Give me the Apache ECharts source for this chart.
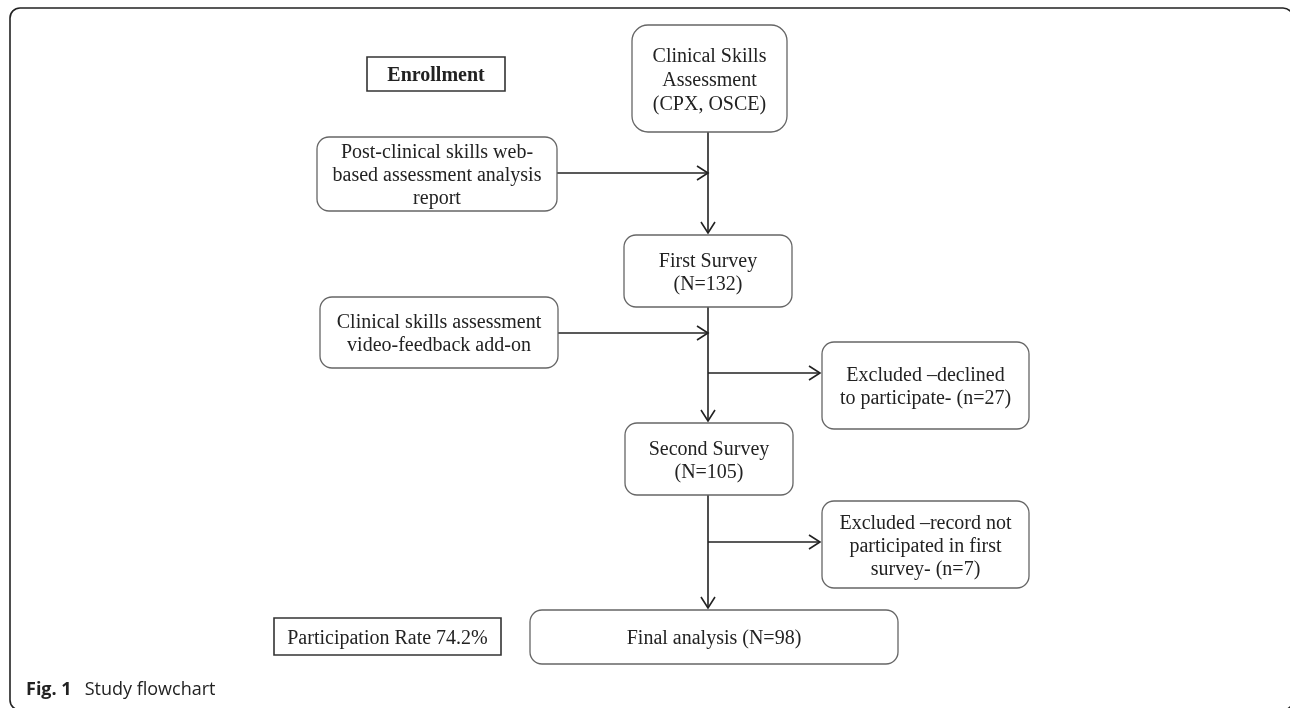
<!DOCTYPE html>
<html>
<head>
<meta charset="utf-8">
<title>Study flowchart</title>
<script src="https://cdn.jsdelivr.net/npm/echarts@6/dist/echarts.min.js"></script>
<style>
  html, body { margin: 0; padding: 0; background: #fff; }
  #chart { width: 1290px; height: 708px; }
</style>
</head>
<body>
<div id="chart"></div>
<script>
// flowchart boxes: label text, kind, and box edges [x0, y0, x1, y1] in page units
var nodeLabels = [
  'Enrollment',
  'Clinical Skills\nAssessment\n(CPX, OSCE)',
  'Post-clinical skills web-\nbased assessment analysis\nreport',
  'First Survey\n(N=132)',
  'Clinical skills assessment\nvideo-feedback add-on',
  'Excluded \u2013declined\nto participate- (n=27)',
  'Second Survey\n(N=105)',
  'Excluded \u2013record not\nparticipated in first\nsurvey- (n=7)',
  'Participation Rate 74.2%',
  'Final analysis (N=98)'
]
var nodeKinds = ['plain', 'round', 'round', 'round', 'round', 'round', 'round', 'round', 'plain', 'round']
var nodeLayout = [
  [367, 57, 505, 91],
  [632, 25, 787, 132],
  [317, 137, 557, 211],
  [624, 235, 792, 307],
  [320, 297, 558, 368],
  [822, 342, 1029, 429],
  [625, 423, 793, 495],
  [822, 501, 1029, 588],
  [274, 618, 501, 655],
  [530, 610, 898, 664]
]
// connectors [x0, y0, x1, y1, arrowhead]
var links = [
  [708, 132, 708, 233, 1],
  [557, 173, 708, 173, 1],
  [708, 307, 708, 421, 1],
  [558, 333, 708, 333, 1],
  [708, 373, 820, 373, 1],
  [708, 495, 708, 608, 1],
  [708, 542, 820, 542, 1]
]

var myChart = echarts.init(document.getElementById('chart'))

var boxData = nodeLayout.map(function (b, i) { return b.concat([i]) })

var option = {
  animation: false,
  title: {
    text: '{b|Fig. 1}Study flowchart',
    left: 26,
    top: 681,
    padding: 0,
    textStyle: {
      fontFamily: 'Open Sans',
      fontSize: 18,
      fontWeight: 'normal',
      color: '#222',
      rich: {
        b: { fontFamily: 'Open Sans', fontSize: 18, fontWeight: 'bold', color: '#222', padding: [0, 13, 0, 0] }
      }
    }
  },
  graphic: [{
    type: 'rect',
    shape: { x: 10, y: 8, width: 1283, height: 702, r: 10 },
    style: { fill: 'none', stroke: '#222', lineWidth: 1.6 },
    silent: true
  }],
  grid: { left: 0, right: 0, top: 0, bottom: 0 },
  xAxis: { type: 'value', min: 0, max: 1290, show: false },
  yAxis: { type: 'value', min: 0, max: 708, inverse: true, show: false },
  series: [
    {
      type: 'custom',
      coordinateSystem: 'cartesian2d',
      data: links,
      renderItem: function (params, api) {
        var a = api.coord([api.value(0), api.value(1)])
        var b = api.coord([api.value(2), api.value(3)])
        var children = [{
          type: 'line',
          shape: { x1: a[0], y1: a[1], x2: b[0], y2: b[1] },
          style: { stroke: '#222', lineWidth: 1.6 }
        }]
        if (api.value(4)) {
          var dx = b[0] - a[0], dy = b[1] - a[1]
          var len = Math.sqrt(dx * dx + dy * dy)
          var ux = dx / len, uy = dy / len
          var px = -uy, py = ux
          children.push({
            type: 'polyline',
            shape: { points: [
              [b[0] - ux * 11 + px * 7, b[1] - uy * 11 + py * 7],
              [b[0], b[1]],
              [b[0] - ux * 11 - px * 7, b[1] - uy * 11 - py * 7]
            ] },
            style: { stroke: '#222', lineWidth: 1.6, fill: 'none' }
          })
        }
        return { type: 'group', children: children }
      },
      silent: true,
      z: 2
    },
    {
      type: 'custom',
      coordinateSystem: 'cartesian2d',
      data: boxData,
      renderItem: function (params, api) {
        var p0 = api.coord([api.value(0), api.value(1)])
        var p1 = api.coord([api.value(2), api.value(3)])
        var i = api.value(4)
        var plain = nodeKinds[i] === 'plain'
        return {
          type: 'rect',
          shape: { x: p0[0], y: p0[1], width: p1[0] - p0[0], height: p1[1] - p0[1], r: plain ? 0 : (i === 1 ? 16 : 12) },
          style: { fill: '#fff', stroke: plain ? '#333' : '#666', lineWidth: plain ? 1.6 : 1.3 },
          textContent: {
            style: {
              text: nodeLabels[i],
              fontFamily: 'Liberation Serif',
              fontSize: 20,
              fontWeight: i === 0 ? 'bold' : 'normal',
              lineHeight: i === 1 ? 24 : 23,
              fill: '#222',
              align: 'center',
              verticalAlign: 'middle'
            }
          },
          textConfig: { position: 'inside', offset: [0, 2] }
        }
      },
      silent: true,
      z: 3
    }
  ]
}
myChart.setOption(option)
window.addEventListener('resize', function () {
  myChart.resize()
})
</script>
</body>
</html>
